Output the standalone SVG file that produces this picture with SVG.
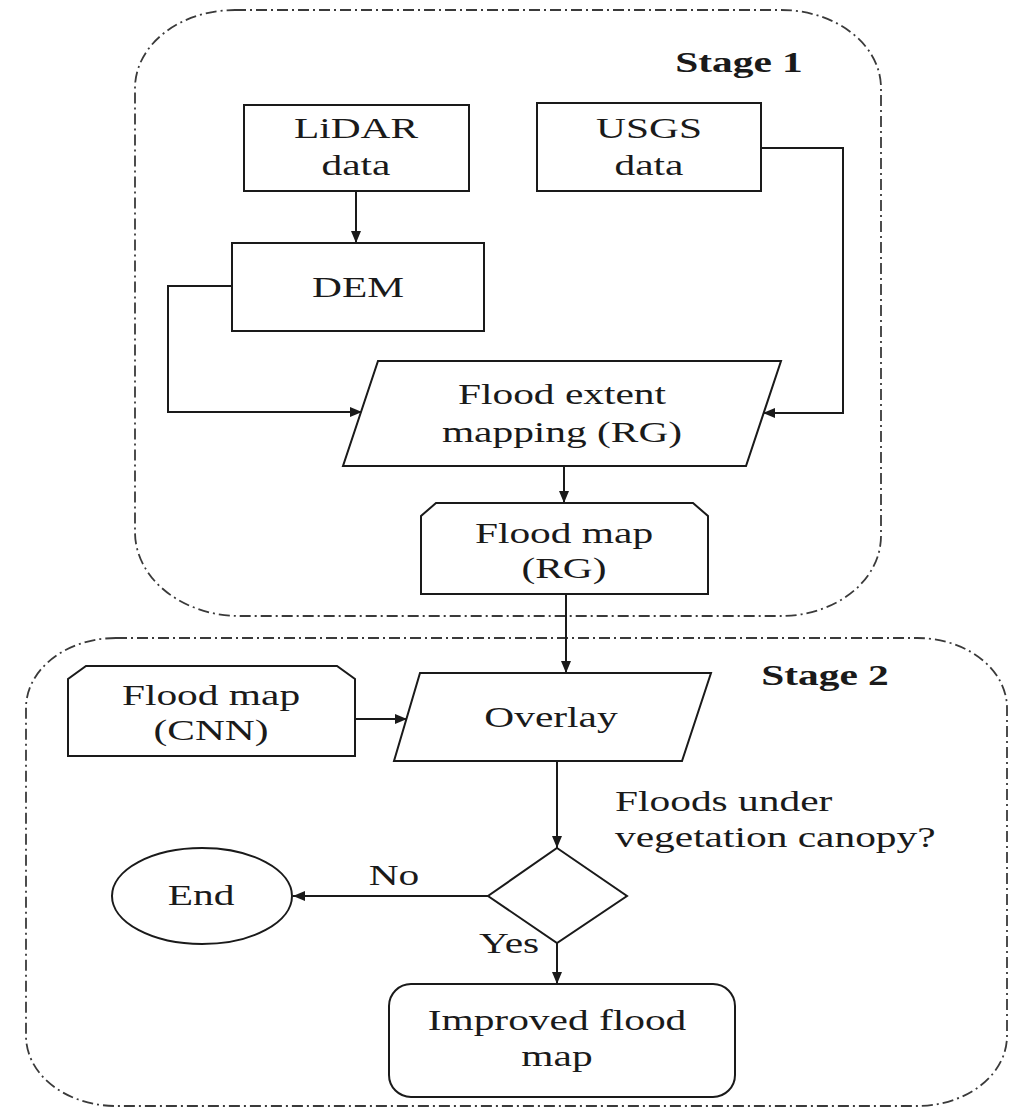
<svg xmlns="http://www.w3.org/2000/svg" width="1012" height="1110" viewBox="0 0 1012 1110">
<style>
.stage{fill:none;stroke:#3a3a3a;stroke-width:1.8;stroke-dasharray:11 4 2 4}
.box{fill:#fff;stroke:#1a1a1a;stroke-width:2}
.con{fill:none;stroke:#1a1a1a;stroke-width:2}
text{font-family:"Liberation Serif","Times New Roman",serif;font-size:30px;fill:#1a1a1a}
.c{text-anchor:middle}
.b{font-weight:bold}
</style>
<defs>
<marker id="ah" viewBox="0 0 12 10" refX="12" refY="5" markerWidth="12" markerHeight="10" markerUnits="userSpaceOnUse" orient="auto">
<path d="M0,0 L12,5 L0,10 Z" fill="#1a1a1a"/>
</marker>
</defs>
<rect width="1012" height="1110" fill="#fff"/>

<g id="stage1">
<path class="stage" d="M235,10 H781 A100,78 0 0 1 881,88 V536 A100,80 0 0 1 781,616 H240 A105,84 0 0 1 135,532 V88 A100,78 0 0 1 235,10 Z"/>
<text class="b" transform="translate(739,72) scale(1.38,1)" text-anchor="middle">Stage 1</text>
</g>
<g id="stage2">
<path class="stage" d="M116,638 H917 A90,70 0 0 1 1007,708 V1036 A90,70 0 0 1 917,1106 H116 A90,70 0 0 1 26,1036 V708 A90,70 0 0 1 116,638 Z"/>
<text class="b" transform="translate(825,685) scale(1.38,1)" text-anchor="middle">Stage 2</text>
</g>

<g id="connectors">
<line class="con" x1="356" y1="191" x2="356" y2="243" marker-end="url(#ah)"/>
<polyline class="con" points="232,286 168,286 168,412 362,412" marker-end="url(#ah)"/>
<polyline class="con" points="761,148 843,148 843,413 763,413" marker-end="url(#ah)"/>
<line class="con" x1="564" y1="466" x2="564" y2="503" marker-end="url(#ah)"/>
<line class="con" x1="566" y1="594" x2="566" y2="673" marker-end="url(#ah)"/>
<line class="con" x1="355" y1="719" x2="407" y2="719" marker-end="url(#ah)"/>
<line class="con" x1="557" y1="761" x2="557" y2="848" marker-end="url(#ah)"/>
<line class="con" x1="488" y1="896" x2="293" y2="896" marker-end="url(#ah)"/>
<line class="con" x1="557" y1="943" x2="557" y2="984" marker-end="url(#ah)"/>
<text transform="translate(394,885) scale(1.38,1)" text-anchor="middle">No</text>
<text transform="translate(509,953) scale(1.38,1)" text-anchor="middle">Yes</text>
<text transform="translate(615,811) scale(1.38,1)">Floods under</text>
<text transform="translate(615,847) scale(1.38,1)">vegetation canopy?</text>
</g>

<g id="lidar">
<rect class="box" x="244" y="105" width="225" height="86"/>
<text transform="translate(356,138) scale(1.38,1)" text-anchor="middle">LiDAR</text>
<text transform="translate(356,175) scale(1.38,1)" text-anchor="middle">data</text>
</g>
<g id="usgs">
<rect class="box" x="537" y="103" width="224" height="88"/>
<text transform="translate(649,138) scale(1.38,1)" text-anchor="middle">USGS</text>
<text transform="translate(649,175) scale(1.38,1)" text-anchor="middle">data</text>
</g>
<g id="dem">
<rect class="box" x="232" y="243" width="252" height="88"/>
<text transform="translate(358,297) scale(1.38,1)" text-anchor="middle">DEM</text>
</g>
<g id="flood-extent">
<polygon class="box" points="378,361 781,361 746,466 343,466"/>
<text transform="translate(562,404) scale(1.38,1)" text-anchor="middle">Flood extent</text>
<text transform="translate(562,442) scale(1.38,1)" text-anchor="middle">mapping (RG)</text>
</g>
<g id="floodmap-rg">
<polygon class="box" points="436,503 693,503 708,516 708,594 421,594 421,516"/>
<text transform="translate(564,543) scale(1.38,1)" text-anchor="middle">Flood map</text>
<text transform="translate(564,578) scale(1.38,1)" text-anchor="middle">(RG)</text>
</g>
<g id="floodmap-cnn">
<polygon class="box" points="86,666 337,666 355,679 355,756 68,756 68,679"/>
<text transform="translate(211,705) scale(1.38,1)" text-anchor="middle">Flood map</text>
<text transform="translate(211,740) scale(1.38,1)" text-anchor="middle">(CNN)</text>
</g>
<g id="overlay">
<polygon class="box" points="420,673 711,673 682,761 394,761"/>
<text transform="translate(551,727) scale(1.38,1)" text-anchor="middle">Overlay</text>
</g>
<g id="decision">
<polygon class="box" points="557,848 627,896 557,943 488,896"/>
</g>
<g id="end">
<ellipse class="box" cx="202" cy="896" rx="90" ry="48"/>
<text transform="translate(201,905) scale(1.38,1)" text-anchor="middle">End</text>
</g>
<g id="improved">
<rect class="box" x="389" y="984" width="346" height="113" rx="22" ry="22"/>
<text transform="translate(557,1030) scale(1.38,1)" text-anchor="middle">Improved flood</text>
<text transform="translate(557,1066) scale(1.38,1)" text-anchor="middle">map</text>
</g>
</svg>
